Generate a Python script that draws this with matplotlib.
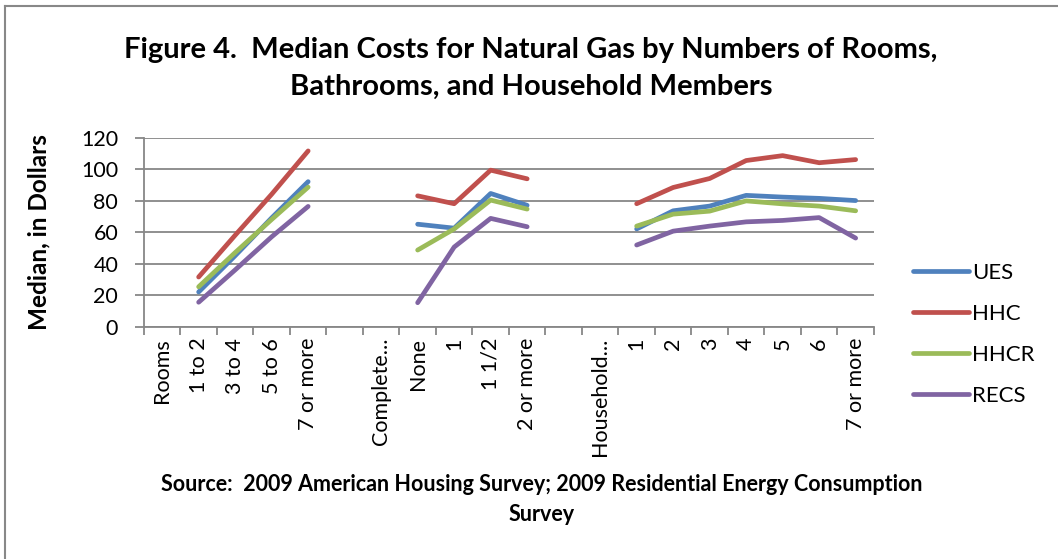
import numpy as np
import matplotlib.pyplot as plt
from matplotlib.lines import Line2D

plt.rcParams['font.family'] = ['Lato', 'DejaVu Sans']

categories = ["Rooms", "1 to 2", "3 to 4", "5 to 6", "7 or more", "",
              "Complete...", "None", "1", "1 1/2", "2 or more", "",
              "Household...", "1", "2", "3", "4", "5", "6", "7 or more"]

nan = np.nan
ues = [nan, 22, 45, 69, 92, nan, nan, 65, 62.5, 84.5, 77, nan,
       nan, 62, 73.5, 76.5, 83.3, 82.2, 81.4, 80]
hhc = [nan, 31.5, 58, 84, 111.5, nan, nan, 83, 78, 99.3, 93.8, nan,
       nan, 78, 88.3, 94, 105.4, 108.5, 104, 106]
hhcr = [nan, 25.3, 47, 68, 88.5, nan, nan, 48.6, 62, 80.3, 74.6, nan,
        nan, 63.8, 71.4, 73.3, 79.8, 77.9, 76.5, 73.5]
recs = [nan, 15.5, 36, 57, 76.3, nan, nan, 15.2, 50.5, 68.7, 63.4, nan,
        nan, 51.8, 60.6, 63.8, 66.5, 67.4, 69.2, 56.2]

series = [("UES", ues, "#4F81BD"), ("HHC", hhc, "#C0504D"),
          ("HHCR", hhcr, "#9BBB59"), ("RECS", recs, "#8064A2")]

fig = plt.figure(figsize=(10.58, 5.59), dpi=100)
ax = fig.add_axes([0.136, 0.4156, 0.69, 0.3384])

x = np.arange(len(categories))
for name, vals, col in series:
    ax.plot(x, vals, color=col, lw=3.4, label=name,
            solid_capstyle='round', solid_joinstyle='round', zorder=3)

grid_col = "#878787"
ax.set_xlim(-0.5, len(categories) - 0.5)
ax.set_ylim(0, 120)
ax.set_yticks(range(0, 121, 20))
ax.yaxis.grid(True, color=grid_col, lw=1.3)
ax.set_axisbelow(True)
ax.set_xticks(x)
ax.set_xticklabels(categories, rotation=90, fontsize=15.5)
ax.set_xticks(np.arange(-0.5, len(categories)), minor=True)
ax.tick_params(axis='x', which='major', length=0, pad=8)
ax.tick_params(axis='x', which='minor', length=6, color=grid_col, width=1.3)
ax.tick_params(axis='y', length=6.5, color=grid_col, width=1.3, labelsize=15.5, pad=12)
for s in ['top', 'right']:
    ax.spines[s].set_visible(False)
for s in ['left', 'bottom']:
    ax.spines[s].set_color(grid_col)
    ax.spines[s].set_linewidth(1.3)

ax.set_ylabel("Median, in Dollars", fontsize=17.5, fontweight='bold', labelpad=22)

fig.text(0.502, 0.911, "Figure 4.  Median Costs for Natural Gas by Numbers of Rooms,",
         ha='center', va='center', fontsize=21, fontweight='bold')
fig.text(0.502, 0.844, "Bathrooms, and Household Members",
         ha='center', va='center', fontsize=21, fontweight='bold')

fig.text(0.512, 0.134, "Source:  2009 American Housing Survey; 2009 Residential Energy Consumption",
         ha='center', va='center', fontsize=15.5, fontweight='bold')
fig.text(0.512, 0.08, "Survey", ha='center', va='center', fontsize=15.5, fontweight='bold')

fig.legend(loc='center left', bbox_to_anchor=(0.863, 0.4016), frameon=False,
           fontsize=16, handlelength=2.5, handletextpad=0.15, labelspacing=0.95,
           borderpad=0, borderaxespad=0)

fig.add_artist(Line2D([0.0045, 0.0045], [0, 0.989], transform=fig.transFigure,
                      color="#888888", lw=1.5))
fig.add_artist(Line2D([0.0045, 1.0], [0.989, 0.989], transform=fig.transFigure,
                      color="#888888", lw=1.5))

fig.savefig("out.png", dpi=100)
